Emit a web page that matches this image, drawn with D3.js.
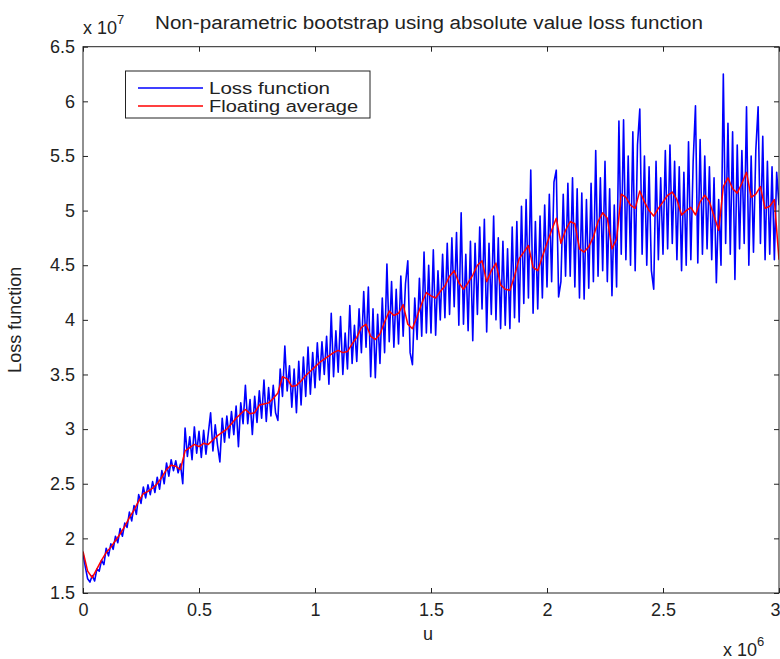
<!DOCTYPE html>
<html>
<head>
<meta charset="utf-8">
<script src="https://cdn.jsdelivr.net/npm/d3@7"></script>
<style>
  body { margin: 0; background: #fff; }
  svg { display: block; }
  text { font-family: "Liberation Sans", Arial, sans-serif; fill: #222; }
</style>
</head>
<body>
<svg id="chart"></svg>
<script>
// u runs from 0 to 3 (x 10^6), loss in units of 10^7
const uMax = 3;

// blue series, sampled every 0.01
const lossValues = [
  1.86, 1.74, 1.63, 1.60, 1.66, 1.61, 1.72, 1.70, 1.80, 1.76,
  1.91, 1.84, 1.95, 1.90, 2.02, 1.96, 2.09, 2.02, 2.14, 2.10,
  2.24, 2.16, 2.30, 2.22, 2.40, 2.32, 2.47, 2.37, 2.49, 2.40,
  2.52, 2.42, 2.56, 2.45, 2.62, 2.50, 2.69, 2.57, 2.72, 2.62,
  2.71, 2.60, 2.68, 2.50, 3.01, 2.75, 2.93, 2.72, 3.02, 2.78,
  2.98, 2.74, 2.99, 2.77, 2.96, 3.15, 2.80, 3.04, 2.85, 2.70,
  3.10, 2.88, 3.12, 2.92, 3.16, 2.95, 3.21, 2.84, 3.24, 3.05,
  3.40, 3.05, 3.27, 2.95, 3.30, 3.06, 3.35, 3.10, 3.45, 3.07,
  3.38, 3.12, 3.40, 3.15, 3.08, 3.55, 3.30, 3.76, 3.35, 3.58,
  3.20, 3.55, 3.15, 3.62, 3.22, 3.66, 3.30, 3.75, 3.32, 3.70,
  3.38, 3.79, 3.45, 3.80, 3.50, 3.85, 3.41, 4.06, 3.48, 3.90,
  3.52, 4.03, 3.50, 3.88, 3.55, 4.13, 3.60, 3.95, 3.62, 4.10,
  3.70, 4.26, 3.75, 4.30, 3.48, 4.10, 3.47, 4.05, 3.60, 4.20,
  3.70, 4.51, 3.80, 4.35, 3.75, 4.28, 3.78, 4.40, 3.85, 4.33,
  4.54, 3.70, 3.59, 4.20, 3.82, 4.38, 3.85, 4.62, 3.88, 4.50,
  3.88, 4.64, 3.86, 4.45, 4.00, 4.60, 4.02, 4.70, 4.05, 4.75,
  4.12, 4.80, 3.95, 4.98, 3.96, 4.60, 3.90, 4.72, 3.81, 4.70,
  4.05, 4.85, 4.10, 4.92, 3.89, 4.70, 4.05, 4.95, 4.00, 4.75,
  3.92, 4.72, 3.95, 4.65, 3.92, 4.85, 4.02, 4.90, 3.98, 5.04,
  4.15, 5.10, 4.20, 5.37, 4.06, 4.90, 4.10, 4.95, 4.20, 5.05,
  4.30, 5.15, 4.35, 5.26, 5.37, 4.21, 4.35, 5.15, 4.40, 5.25,
  4.40, 5.30, 4.30, 5.20, 4.20, 5.16, 4.19, 5.10, 4.29, 5.25,
  4.35, 5.55, 4.40, 5.30, 4.45, 5.45, 4.35, 5.20, 4.22, 5.05,
  4.30, 5.82, 4.60, 5.83, 4.55, 5.50, 4.50, 5.72, 4.45, 5.60,
  5.93, 4.60, 5.50, 4.50, 5.40, 4.45, 4.28, 5.45, 4.55, 5.30,
  4.60, 5.55, 4.65, 5.60, 4.70, 5.45, 4.55, 5.40, 4.45, 5.35,
  4.50, 5.63, 4.55, 5.45, 5.96, 4.52, 5.65, 4.60, 5.50, 4.65,
  5.40, 4.55, 5.30, 4.34, 5.10, 4.50, 6.25, 4.70, 5.80, 4.60,
  5.72, 4.37, 5.60, 4.65, 5.55, 4.70, 5.95, 4.50, 5.50, 4.62,
  5.55, 5.95, 4.70, 5.68, 4.55, 5.45, 4.60, 5.40, 4.55, 5.35,
  5.05
];

// red series, sampled every 0.02
const averageValues = [
  1.88, 1.70, 1.64, 1.72, 1.80, 1.87, 1.92, 1.98, 2.04, 2.11,
  2.19, 2.26, 2.34, 2.41, 2.43, 2.46, 2.50, 2.56, 2.63, 2.67,
  2.66, 2.63, 2.80, 2.83, 2.86, 2.84, 2.87, 2.86, 2.90, 2.94,
  2.97, 3.00, 3.05, 3.10, 3.14, 3.18, 3.14, 3.15, 3.22, 3.23,
  3.24, 3.28, 3.33, 3.48, 3.46, 3.39, 3.40, 3.44, 3.49, 3.53,
  3.57, 3.61, 3.64, 3.67, 3.70, 3.72, 3.70, 3.71, 3.78, 3.84,
  3.93, 3.96, 3.85, 3.82, 3.87, 3.98, 4.08, 4.04, 4.06, 4.14,
  3.96, 3.92, 4.03, 4.15, 4.25, 4.22, 4.20, 4.26, 4.31, 4.40,
  4.45, 4.34, 4.28, 4.34, 4.41, 4.50, 4.54, 4.35, 4.45, 4.52,
  4.32, 4.28, 4.27, 4.40, 4.56, 4.62, 4.68, 4.48, 4.45, 4.58,
  4.70, 4.82, 4.93, 4.70, 4.82, 4.90, 4.88, 4.65, 4.62, 4.67,
  4.76, 4.90, 4.98, 4.93, 4.65, 4.74, 5.15, 5.12, 5.05, 5.02,
  5.18, 5.08, 5.00, 4.95, 5.02, 5.08, 5.14, 5.17, 5.10, 4.96,
  5.00, 5.03, 4.96, 5.08, 5.14, 5.08, 4.95, 4.82, 5.22, 5.30,
  5.20, 5.16, 5.25, 5.35, 5.12, 5.15, 5.22, 5.02, 5.04, 5.10,
  4.55
];

const xTicks = [0, 0.5, 1, 1.5, 2, 2.5, 3];
const yTicks = [1.5, 2, 2.5, 3, 3.5, 4, 4.5, 5, 5.5, 6, 6.5];
const seriesNames = ["Loss function", "Floating average"];
const seriesColors = ["#0000ff", "#ff0000"];

const width = 780;
const height = 659;
const margin = { top: 46.7, right: 1, bottom: 66, left: 83 };

const svg = d3.select("#chart")
    .attr("width", width)
    .attr("height", height)
    .style("background", "#fff");

const x = d3.scaleLinear().domain([0, uMax]).range([margin.left, width - margin.right]);
const y = d3.scaleLinear().domain([1.5, 6.5]).range([height - margin.bottom, margin.top]);

svg.append("defs").append("clipPath").attr("id", "plot-clip")
    .append("rect")
    .attr("x", margin.left)
    .attr("y", margin.top)
    .attr("width", width - margin.left - margin.right)
    .attr("height", height - margin.top - margin.bottom);

// series lines
function toPoints(values) {
    const step = uMax / (values.length - 1);
    return values.map((v, i) => [i * step, v]);
}
const line = d3.line().x((d) => x(d[0])).y((d) => y(d[1]));

const plot = svg.append("g").attr("clip-path", "url(#plot-clip)");
[lossValues, averageValues].forEach((values, i) => {
    plot.append("path")
        .datum(toPoints(values))
        .attr("fill", "none")
        .attr("stroke", seriesColors[i])
        .attr("stroke-width", i === 0 ? 1.6 : 1.5)
        .attr("stroke-linejoin", "round")
        .attr("d", line);
});

// axes (MATLAB style: ticks pointing inward, on all four sides)
const fontSize = 18;
svg.append("g")
    .attr("transform", `translate(0,${y(1.5)})`)
    .call(d3.axisBottom(x).tickValues(xTicks).tickSizeInner(-5).tickSizeOuter(0).tickPadding(10).tickFormat((d) => d))
    .selectAll(".tick text")
    .attr("text-anchor", (d) => (d === uMax ? "end" : "middle"))
    .attr("dx", (d) => (d === uMax ? 1 : 0));
svg.append("g")
    .attr("transform", `translate(${x(0)},0)`)
    .call(d3.axisLeft(y).tickValues(yTicks).tickSizeInner(-5).tickSizeOuter(0).tickPadding(8).tickFormat((d) => d));
svg.append("g")
    .attr("transform", `translate(0,${y(6.5)})`)
    .call(d3.axisTop(x).tickValues(xTicks).tickSizeInner(-5).tickSizeOuter(0).tickFormat(""));
svg.append("g")
    .attr("transform", `translate(${x(uMax)},0)`)
    .call(d3.axisRight(y).tickValues(yTicks).tickSizeInner(-5).tickSizeOuter(0).tickFormat(""));

svg.selectAll(".domain").remove();
svg.selectAll(".tick line").attr("stroke", "#222");
svg.selectAll(".tick text")
    .attr("fill", "#222")
    .style("font-size", fontSize + "px")
    .style("font-family", "'Liberation Sans', Arial, sans-serif");

// plot box
svg.append("rect")
    .attr("x", x(0))
    .attr("y", y(6.5))
    .attr("width", x(uMax) - x(0))
    .attr("height", y(1.5) - y(6.5))
    .attr("fill", "none")
    .attr("stroke", "#222")
    .attr("stroke-width", 1);

// title and exponent labels
svg.append("text")
    .attr("x", 155)
    .attr("y", 29)
    .attr("textLength", 548)
    .attr("lengthAdjust", "spacingAndGlyphs")
    .style("font-size", fontSize + "px")
    .text("Non-parametric bootstrap using absolute value loss function");

const yExp = svg.append("text").attr("x", 83).attr("y", 34).style("font-size", fontSize + "px");
yExp.append("tspan").text("x 10");
yExp.append("tspan").attr("dy", -10).style("font-size", "13px").text("7");

const xExp = svg.append("text").attr("x", 723).attr("y", 656).style("font-size", fontSize + "px");
xExp.append("tspan").text("x 10");
xExp.append("tspan").attr("dy", -10).style("font-size", "13px").text("6");

svg.append("text")
    .attr("x", 428)
    .attr("y", 640)
    .attr("text-anchor", "middle")
    .style("font-size", fontSize + "px")
    .text("u");

svg.append("text")
    .attr("transform", `translate(21,${(y(1.5) + y(6.5)) / 2}) rotate(-90)`)
    .attr("text-anchor", "middle")
    .style("font-size", fontSize + "px")
    .text("Loss function");

// legend
const legendWidths = [121, 149];
const legend = svg.append("g").attr("transform", "translate(125.5,71)");
legend.append("rect")
    .attr("width", 244.5)
    .attr("height", 47)
    .attr("fill", "#fff")
    .attr("stroke", "#222")
    .attr("stroke-width", 1);
seriesNames.forEach((name, i) => {
    const row = legend.append("g").attr("transform", `translate(0,${17 + i * 18})`);
    row.append("line")
        .attr("x1", 12.5).attr("x2", 77.5)
        .attr("stroke", seriesColors[i])
        .attr("stroke-width", 1.5);
    row.append("text")
        .attr("x", 83.5)
        .attr("y", 5.5)
        .attr("textLength", legendWidths[i])
        .attr("lengthAdjust", "spacingAndGlyphs")
        .style("font-size", "16px")
        .text(name);
});
</script>
</body>
</html>
